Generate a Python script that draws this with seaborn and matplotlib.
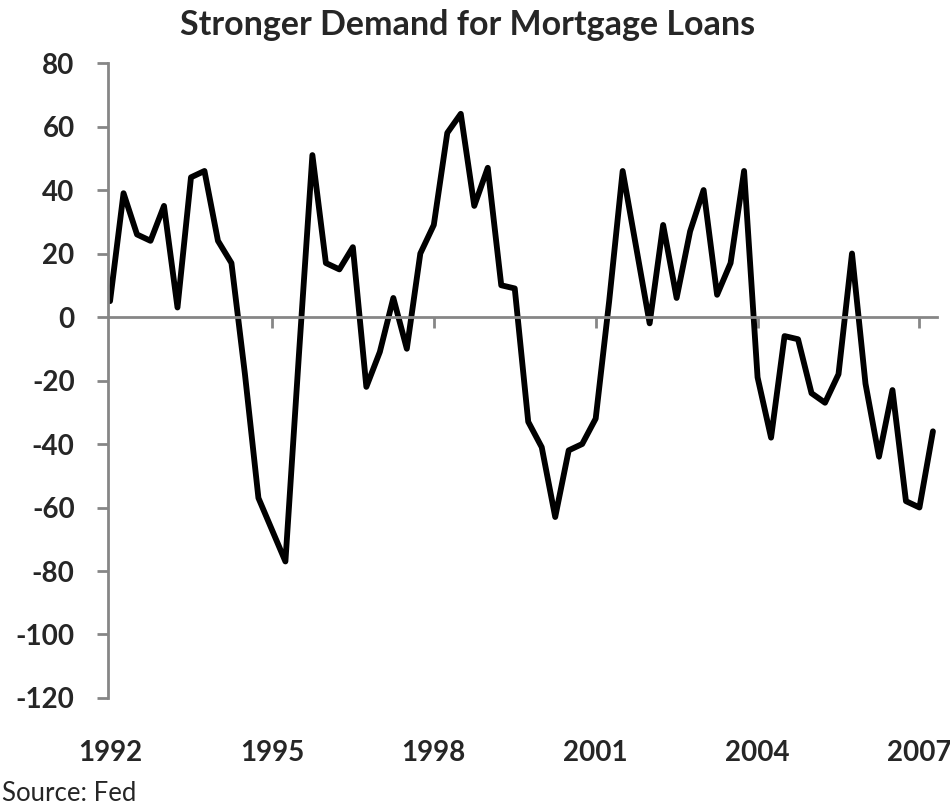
import numpy as np
import pandas as pd
import matplotlib
matplotlib.use("Agg")
import matplotlib.pyplot as plt
import seaborn as sns

# net share of banks reporting stronger demand for mortgage loans, quarterly from 1992Q1
demand = [5, 39, 26, 24, 35, 3, 44, 46, 24, 17,
          -18, -57, -67, -77, -12, 51, 17, 15, 22, -22,
          -11, 6, -10, 20, 29, 58, 64, 35, 47, 10,
          9, -33, -41, -63, -42, -40, -32, 5, 46, 22,
          -2, 29, 6, 27, 40, 7, 17, 46, -19, -38,
          -6, -7, -24, -27, -18, 20, -21, -44, -23, -58,
          -60, -36]
tick_years = ["1992", "1995", "1998", "2001", "2004", "2007"]
y_ticks = list(range(-120, 81, 20))

quarters = pd.period_range("1992Q1", periods=len(demand), freq="Q")
df = pd.DataFrame({"t": np.arange(len(demand)), "quarter": quarters.astype(str), "demand": demand})
tick_pos = [(int(y) - 1992) * 4 for y in tick_years]

sns.set_style("white")
plt.rcParams["font.family"] = ["Lato", "DejaVu Sans"]
plt.rcParams["axes.unicode_minus"] = False

grey = "#868686"

fig = plt.figure(figsize=(9.5, 8.06), dpi=100)
ax = fig.add_axes([0.1137, 0.134, 0.8726, 0.7878])
sns.lineplot(data=df, x="t", y="demand", color="black", linewidth=4.2, ax=ax)

ax.set_xlim(-0.15, 61.3)
ax.set_ylim(-120, 80)
ax.set_xlabel("")
ax.set_ylabel("")

# y axis
ax.set_yticks(y_ticks)
ax.set_yticklabels([str(v) for v in y_ticks], fontsize=20, fontweight="bold")
ax.tick_params(axis="y", direction="out", length=8, width=2, color=grey, pad=16, left=True)

# x axis line sits on zero, labels go at the bottom
for side in ["top", "right"]:
    ax.spines[side].set_visible(False)
for side in ["left", "bottom"]:
    ax.spines[side].set_color(grey)
    ax.spines[side].set_linewidth(2)
ax.spines["bottom"].set_position(("data", 0))
ax.set_xticks(tick_pos[1:])
ax.set_xticklabels([])
ax.tick_params(axis="x", direction="out", length=8, width=2, color=grey, bottom=True)

sec = ax.secondary_xaxis("bottom")
sec.set_xticks(tick_pos, labels=tick_years)
sec.tick_params(length=0, pad=30, labelsize=20)
for lbl in sec.get_xticklabels():
    lbl.set_fontweight("bold")
sec.spines["bottom"].set_visible(False)

fig.text(0.4926, 0.9566, "Stronger Demand for Mortgage Loans", ha="center", va="baseline",
         fontsize=24.5, fontweight="bold")
fig.text(0.002, 0.0065, "Source: Fed", ha="left", va="baseline", fontsize=18.5)

fig.savefig("out.png", dpi=100)
